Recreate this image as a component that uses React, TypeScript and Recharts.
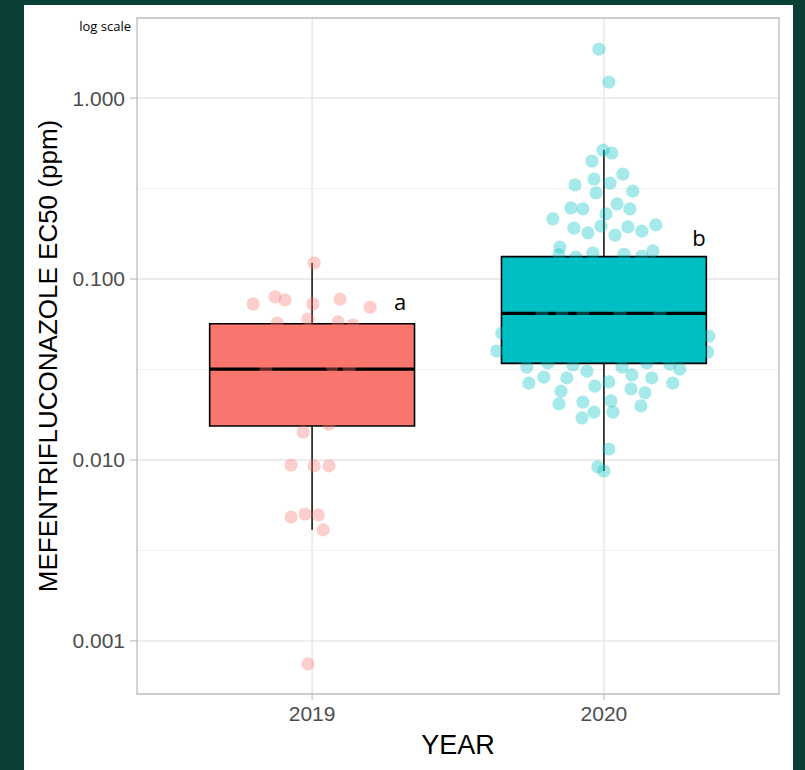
import React from "react";
import {
  ComposedChart,
  Scatter,
  XAxis,
  YAxis,
  CartesianGrid,
  ReferenceArea,
  ReferenceLine,
  ReferenceDot,
  Customized,
} from "recharts";

// categories and labels
const years = ["2019", "2020"];
const letters = ["a", "b"];
const letterX = [1.302, 2.326];
const letterY = [0.0746, 0.168];

// y axis (log)
const majorY = [0.001, 0.01, 0.1, 1];
const minorY = [0.00316, 0.0316, 0.316];
const yDomain = [0.000509, 2.77];

// box statistics per year
const whiskerLow = [0.00411, 0.00869];
const q1 = [0.0154, 0.0342];
const median = [0.0318, 0.0646];
const q3 = [0.0566, 0.133];
const whiskerHigh = [0.1226, 0.516];

// individual isolates
const ec50_2019 = [
  0.1226, 0.0728, 0.0796, 0.0766, 0.0728, 0.0775, 0.07, 0.0571, 0.0601, 0.0579, 0.0557, 0.0322, 0.0322,
  0.0331, 0.01428, 0.0158, 0.00938, 0.00927, 0.00927, 0.00484, 0.00503, 0.00497, 0.00411, 0.000746,
];
const jitter2019 = [
  0.007, -0.202, -0.127, -0.093, 0.003, 0.096, 0.199, -0.12, -0.014, 0.089, 0.14, -0.158, 0.127, 0.069,
  -0.031, 0.058, -0.072, 0.007, 0.058, -0.072, -0.024, 0.021, 0.038, -0.014,
];
const ec50_2020 = [
  1.865, 1.226, 0.516, 0.497, 0.449, 0.38, 0.331, 0.357, 0.339, 0.306, 0.299, 0.247, 0.244, 0.26, 0.244,
  0.215, 0.229, 0.191, 0.18, 0.196, 0.175, 0.194, 0.184, 0.199, 0.15, 0.143, 0.132, 0.139, 0.137, 0.134,
  0.136, 0.04, 0.0503, 0.0484, 0.0395, 0.0649, 0.0649, 0.0649, 0.0649, 0.0649, 0.0326, 0.0344, 0.0335,
  0.031, 0.0326, 0.0344, 0.0339, 0.0318, 0.0266, 0.0287, 0.0284, 0.0256, 0.027, 0.0295, 0.0284, 0.0266,
  0.024, 0.0247, 0.0235, 0.0204, 0.0209, 0.0212, 0.0199, 0.0184, 0.0184, 0.0171, 0.0115, 0.00915, 0.00869,
];
const jitter2020 = [
  -0.017, 0.017, -0.003, 0.027, -0.041, 0.065, -0.099, -0.034, 0.021, 0.099, -0.027, -0.113, -0.072, 0.045,
  0.089, -0.175, 0.007, -0.103, -0.055, -0.01, 0.038, 0.082, 0.13, 0.178, -0.151, 0.168, -0.096, -0.038,
  0.069, 0.13, -0.154, -0.367, -0.35, 0.36, 0.356, -0.212, -0.144, -0.072, 0.055, 0.192, -0.264, -0.192,
  -0.106, -0.058, 0.062, 0.147, 0.226, 0.26, -0.257, -0.206, -0.127, -0.031, 0.017, 0.096, 0.164, 0.236,
  -0.147, 0.093, 0.141, -0.154, -0.072, 0.024, 0.127, -0.034, 0.031, -0.075, 0.017, -0.021, 0,
];

const COLORS = ["#F8766D", "#00BFC4"];
const BOX_HALF = 0.351;
const FONT = "'Liberation Sans', Arial, sans-serif";

const pts2019 = ec50_2019.map((y, i) => ({ x: 1 + jitter2019[i], y }));
const pts2020 = ec50_2020.map((y, i) => ({ x: 2 + jitter2020[i], y }));

const dot = (color: string) => (p: any) =>
  <circle cx={p.cx} cy={p.cy} r={6.6} fill={color} fillOpacity={0.35} />;

const Titles = () => (
  <g>
    <text x={131} y={31} textAnchor="end" fontSize={13} fontFamily="'Open Sans', sans-serif" fill="#000">
      log scale
    </text>
    <text x={458} y={754} textAnchor="middle" fontSize={27} fontFamily={FONT} fill="#000">
      YEAR
    </text>
    <text
      x={48}
      y={356}
      textAnchor="middle"
      dominantBaseline="central"
      transform="rotate(-90 48 356)"
      fontSize={26}
      fontFamily={FONT}
      fill="#000"
    >
      MEFENTRIFLUCONAZOLE EC50 (ppm)
    </text>
  </g>
);

export default function App() {
  return (
    <div style={{ position: "absolute", left: 0, top: 0, width: 805, height: 770, background: "#0b4037" }}>
      <div style={{ position: "absolute", left: 24, top: 5, width: 769, height: 765, background: "#fff" }} />
      <div style={{ position: "absolute", left: 0, top: 0 }}>
        <ComposedChart width={805} height={770} margin={{ top: 18, right: 26, bottom: 0, left: 0 }}>
          <CartesianGrid horizontalValues={minorY} vertical={false} stroke="#f2f2f2" strokeWidth={1} />
          <CartesianGrid horizontalValues={majorY} verticalValues={[1, 2]} stroke="#e4e4e4" strokeWidth={1.3} />
          <XAxis
            type="number"
            dataKey="x"
            domain={[0.4, 2.6]}
            allowDataOverflow
            ticks={[1, 2]}
            tickFormatter={(v: number) => years[v - 1]}
            height={76}
            axisLine={false}
            tickSize={6}
            tickMargin={6}
            tickLine={{ stroke: "#b3b3b3" }}
            tick={{ fontSize: 21, fill: "#4d4d4d", fontFamily: FONT }}
          />
          <YAxis
            type="number"
            dataKey="y"
            scale="log"
            domain={yDomain}
            allowDataOverflow
            ticks={majorY}
            tickFormatter={(v: number) => v.toFixed(3)}
            width={137}
            axisLine={false}
            tickSize={7}
            tickMargin={5}
            tickLine={{ stroke: "#b3b3b3" }}
            tick={{ fontSize: 21, fill: "#4d4d4d", fontFamily: FONT }}
          />
          <Scatter data={pts2019} shape={dot(COLORS[0])} isAnimationActive={false} />
          <Scatter data={pts2020} shape={dot(COLORS[1])} isAnimationActive={false} />
          {years.map((_, i) => (
            <ReferenceLine
              key={`wl${i}`}
              segment={[{ x: i + 1, y: whiskerLow[i] }, { x: i + 1, y: q1[i] }]}
              stroke="#1a1a1a"
              strokeWidth={1.6}
            />
          ))}
          {years.map((_, i) => (
            <ReferenceLine
              key={`wh${i}`}
              segment={[{ x: i + 1, y: q3[i] }, { x: i + 1, y: whiskerHigh[i] }]}
              stroke="#1a1a1a"
              strokeWidth={1.6}
            />
          ))}
          {years.map((_, i) => (
            <ReferenceArea
              key={`box${i}`}
              x1={i + 1 - BOX_HALF}
              x2={i + 1 + BOX_HALF}
              y1={q1[i]}
              y2={q3[i]}
              fill={COLORS[i]}
              fillOpacity={1}
              stroke="#000"
              strokeWidth={1.6}
            />
          ))}
          {years.map((_, i) => (
            <ReferenceLine
              key={`med${i}`}
              segment={[{ x: i + 1 - BOX_HALF, y: median[i] }, { x: i + 1 + BOX_HALF, y: median[i] }]}
              stroke="#000"
              strokeWidth={3.2}
            />
          ))}
          {letters.map((l, i) => (
            <ReferenceDot
              key={l}
              x={letterX[i]}
              y={letterY[i]}
              r={1}
              fill="none"
              stroke="none"
              label={{ value: l, position: "center", fontSize: 22, fill: "#000", fontFamily: "'Open Sans', sans-serif" }}
            />
          ))}
          <ReferenceArea
            x1={0.4}
            x2={2.6}
            y1={yDomain[0]}
            y2={yDomain[1]}
            fill="none"
            stroke="#bdbdbd"
            strokeWidth={1.3}
            ifOverflow="visible"
          />
          <Customized component={Titles} />
        </ComposedChart>
      </div>
    </div>
  );
}
